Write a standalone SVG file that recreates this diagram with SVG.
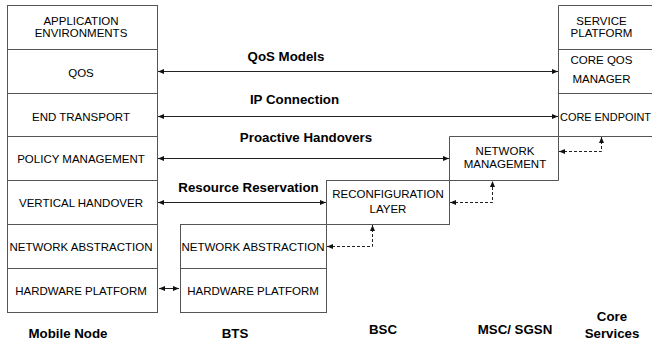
<svg xmlns="http://www.w3.org/2000/svg" width="652" height="340" viewBox="0 0 652 340">
<style>
.box{fill:#fff;stroke:#555;stroke-width:1}
.ln{stroke:#555;stroke-width:1;fill:none}
.t{font-family:"Liberation Sans",Arial,sans-serif;font-size:11.5px;fill:#000;text-anchor:middle}
.b{font-family:"Liberation Sans",Arial,sans-serif;font-size:13.3px;font-weight:bold;fill:#000;text-anchor:middle}
.c{stroke:#222;stroke-width:1;fill:none}
.d{stroke:#222;stroke-width:1;fill:none;stroke-dasharray:3,2}
</style>
<defs>
<marker id="ah" viewBox="0 0 6 6" refX="6" refY="3" markerWidth="6" markerHeight="6" orient="auto-start-reverse" markerUnits="userSpaceOnUse">
<path d="M0,0.5 L6,3 L0,5.5 Z" fill="#111"/>
</marker>
</defs>
<rect width="652" height="340" fill="#fff"/>

<g id="mobile-node">
<rect class="box" x="7.5" y="5.5" width="150" height="307"/>
<path class="ln" d="M7.5 49.5H157.5M7.5 93.5H157.5M7.5 136.5H157.5M7.5 180.5H157.5M7.5 224.5H157.5M7.5 268.5H157.5"/>
<text class="t" x="81" y="25">APPLICATION</text>
<text class="t" x="81" y="37">ENVIRONMENTS</text>
<text class="t" x="81" y="77">QOS</text>
<text class="t" x="81" y="121">END TRANSPORT</text>
<text class="t" x="81" y="163">POLICY MANAGEMENT</text>
<text class="t" x="81" y="207">VERTICAL HANDOVER</text>
<text class="t" x="81" y="251">NETWORK ABSTRACTION</text>
<text class="t" x="81" y="295">HARDWARE PLATFORM</text>
</g>

<g id="bts">
<rect class="box" x="180.5" y="224.5" width="146" height="88"/>
<path class="ln" d="M180.5 268.5H326.5"/>
<text class="t" x="253" y="251">NETWORK ABSTRACTION</text>
<text class="t" x="253" y="295">HARDWARE PLATFORM</text>
</g>

<g id="bsc">
<rect class="box" x="326.5" y="180.5" width="123" height="44"/>
<text class="t" x="388" y="198">RECONFIGURATION</text>
<text class="t" x="388" y="213">LAYER</text>
</g>

<g id="msc-sgsn">
<path class="ln" d="M449.5 180.5V136.5H660M449.5 180.5H558.5"/>
<text class="t" x="505" y="155">NETWORK</text>
<text class="t" x="505" y="168">MANAGEMENT</text>
</g>

<g id="core-services">
<path class="ln" d="M660 5.5H558.5V180.5M558.5 49.5H660M558.5 93.5H660"/>
<text class="t" x="601.5" y="25">SERVICE</text>
<text class="t" x="601.5" y="37">PLATFORM</text>
<text class="t" x="601.5" y="64">CORE QOS</text>
<text class="t" x="601.5" y="83">MANAGER</text>
<text class="t" x="560" y="121" style="text-anchor:start" textLength="91" lengthAdjust="spacingAndGlyphs">CORE ENDPOINT</text>
</g>

<g id="connectors">
<line class="c" x1="158" y1="71.5" x2="558" y2="71.5" marker-start="url(#ah)" marker-end="url(#ah)"/>
<line class="c" x1="158" y1="116.5" x2="558" y2="116.5" marker-start="url(#ah)" marker-end="url(#ah)"/>
<line class="c" x1="158" y1="158.5" x2="449" y2="158.5" marker-start="url(#ah)" marker-end="url(#ah)"/>
<line class="c" x1="158" y1="202.5" x2="326" y2="202.5" marker-start="url(#ah)" marker-end="url(#ah)"/>
<line class="c" x1="159" y1="288.5" x2="179" y2="288.5" marker-start="url(#ah)" marker-end="url(#ah)"/>
<polyline class="d" points="327,246.5 372.5,246.5 372.5,225" marker-start="url(#ah)" marker-end="url(#ah)"/>
<polyline class="d" points="450,202.5 492.5,202.5 492.5,181" marker-start="url(#ah)" marker-end="url(#ah)"/>
<polyline class="d" points="559,151.5 601.5,151.5 601.5,137" marker-start="url(#ah)" marker-end="url(#ah)"/>
<text class="b" x="286" y="61">QoS Models</text>
<text class="b" x="294.5" y="104">IP Connection</text>
<text class="b" x="306" y="142">Proactive Handovers</text>
<text class="b" x="248.5" y="192">Resource Reservation</text>
</g>

<g id="labels">
<text class="b" x="68" y="338">Mobile Node</text>
<text class="b" x="235" y="338">BTS</text>
<text class="b" x="383" y="334">BSC</text>
<text class="b" x="515" y="334">MSC/ SGSN</text>
<text class="b" x="612" y="321">Core</text>
<text class="b" x="612" y="338">Services</text>
</g>
</svg>
